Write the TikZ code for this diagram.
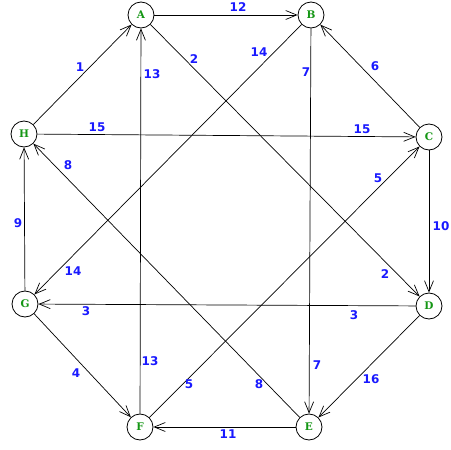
\documentclass[tikz,border=0pt]{standalone}
\usepackage{fontspec}
\usetikzlibrary{arrows.meta}
\newfontfamily\numfont{DejaVu Sans}
\newfontfamily\letfont{DejaVu Serif}
\definecolor{nodegreen}{RGB}{20,150,20}
\definecolor{labblue}{RGB}{25,25,255}
\tikzset{
  vert/.style={circle,draw,line width=0.8pt,minimum size=26pt,inner sep=0pt,fill=white,
    font=\letfont\bfseries\fontsize{10.5}{11}\selectfont,text=nodegreen},
  edge/.style={line width=0.7pt,-{Straight Barb[length=11pt,width=9pt,line width=0.7pt]}},
  wlab/.style={font=\numfont\bfseries\fontsize{12}{12}\selectfont,text=labblue,inner sep=0pt}
}
\begin{document}
\begin{tikzpicture}[x=1pt,y=-1pt]
\useasboundingbox (0,0) rectangle (451,450);
\node[vert] (A) at (141,15) {A};
\node[vert] (B) at (311,15) {B};
\node[vert] (C) at (429,137) {C};
\node[vert] (D) at (429,306) {D};
\node[vert] (E) at (309,427) {E};
\node[vert] (F) at (140,427) {F};
\node[vert] (G) at (25,304) {G};
\node[vert] (H) at (24,134) {H};
\draw[edge] (A) -- (B);
\draw[edge] (H) -- (A);
\draw[edge] (A) -- (D);
\draw[edge] (B) -- (G);
\draw[edge] (B) -- (E);
\draw[edge] (C) -- (B);
\draw[edge] (H) -- (C);
\draw[edge] (C) -- (D);
\draw[edge] (F) -- (C);
\draw[edge] (E) -- (H);
\draw[edge] (F) -- (A);
\draw[edge] (G) -- (H);
\draw[edge] (D) -- (G);
\draw[edge] (G) -- (F);
\draw[edge] (D) -- (E);
\draw[edge] (E) -- (F);
\node[wlab] (l12) at (238,7) {12};
\node[wlab] (l2a) at (194,59) {2};
\node[wlab] (l14a) at (259,52) {14};
\node[wlab] (l7a) at (306,72) {7};
\node[wlab] (l13a) at (152,74) {13};
\node[wlab] (l15a) at (97,127) {15};
\node[wlab] (l8a) at (68,165) {8};
\node[wlab] (l15b) at (362,129) {15};
\node[wlab] (l5a) at (378,178) {5};
\node[wlab] (l14b) at (73,271) {14};
\node[wlab] (l3a) at (86,311) {3};
\node[wlab] (l2b) at (385,274) {2};
\node[wlab] (l3b) at (354,315) {3};
\node[wlab] (l13b) at (150,361) {13};
\node[wlab] (l5b) at (189,384) {5};
\node[wlab] (l8b) at (259,384) {8};
\node[wlab] (l7b) at (317,365) {7};
\node[wlab] (l11) at (228,434) {11};
\node[wlab] (l1) at (80,67) {1};
\node[wlab] (l6) at (375,66) {6};
\node[wlab] (l10) at (441,226) {10};
\node[wlab] (l9) at (18,223) {9};
\node[wlab] (l4) at (76,373) {4};
\node[wlab] (l16) at (371,379) {16};
\end{tikzpicture}
\end{document}
